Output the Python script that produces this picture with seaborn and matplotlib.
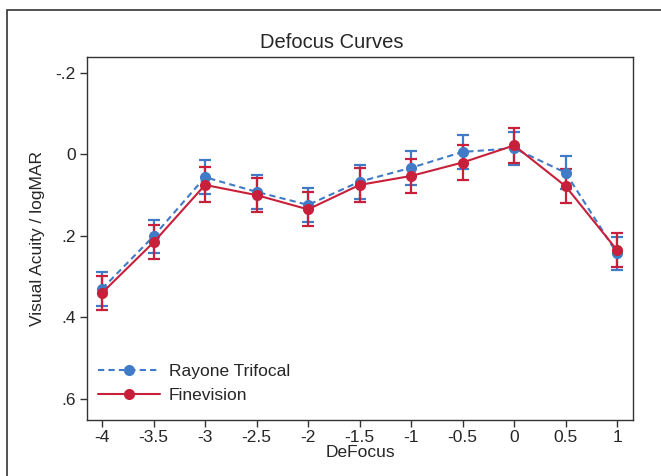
import numpy as np
import pandas as pd
import seaborn as sns
import matplotlib.pyplot as plt
from matplotlib.patches import Rectangle

defocus = [-4, -3.5, -3, -2.5, -2, -1.5, -1, -0.5, 0, 0.5, 1]
rayone_mean = [0.330, 0.201, 0.056, 0.092, 0.124, 0.067, 0.033, -0.006, -0.015, 0.045, 0.243]
rayone_err = [0.042, 0.040, 0.041, 0.042, 0.041, 0.042, 0.042, 0.042, 0.041, 0.041, 0.041]
fine_mean = [0.340, 0.216, 0.075, 0.100, 0.135, 0.075, 0.053, 0.020, -0.022, 0.078, 0.235]
fine_err = [0.042, 0.042, 0.043, 0.042, 0.042, 0.042, 0.041, 0.042, 0.042, 0.041, 0.041]
series_names = ['Rayone Trifocal', 'Finevision']
xtick_labels = ['-4', '-3.5', '-3', '-2.5', '-2', '-1.5', '-1', '-0.5', '0', '0.5', '1']
yticks = [-0.2, 0, 0.2, 0.4, 0.6]
ytick_labels = ['-.2', '0', '.2', '.4', '.6']

blue = '#3F7BC6'
red = '#C8203A'

sns.set_style('white')
plt.rcParams['font.family'] = ['Liberation Sans', 'DejaVu Sans']

df = pd.DataFrame({
    'DeFocus': defocus * 2,
    'VA': rayone_mean + fine_mean,
    'err': rayone_err + fine_err,
    'Lens': [series_names[0]] * len(defocus) + [series_names[1]] * len(defocus),
})

fig = plt.figure(figsize=(6.61, 4.76), dpi=100)
fig.patches.append(Rectangle((7 / 661, -0.1), 1.2, 1 - 10 / 476 + 0.1,
                             transform=fig.transFigure, fill=False,
                             edgecolor='#333333', linewidth=1.2))
ax = fig.add_axes([87 / 661, 1 - 420 / 476, (633 - 87) / 661, (420 - 57) / 476])

pal = {series_names[0]: blue, series_names[1]: red}
for name in series_names:
    d = df[df['Lens'] == name]
    ax.errorbar(d['DeFocus'], d['VA'], yerr=d['err'], fmt='none',
                ecolor=pal[name], elinewidth=1.6, capsize=4.5, capthick=1.6, zorder=2)
sns.lineplot(data=df, x='DeFocus', y='VA', hue='Lens', style='Lens',
             palette=pal, dashes={series_names[0]: (3, 2), series_names[1]: ''},
             markers={series_names[0]: 'o', series_names[1]: 'o'},
             markersize=8, markeredgewidth=0, linewidth=1.5, ax=ax, zorder=3)

ax.set_xlim(-4.146, 1.155)
ax.set_ylim(0.652, -0.239)
ax.set_xticks(defocus)
ax.set_xticklabels(xtick_labels, fontsize=12.5)
ax.set_yticks(yticks)
ax.set_yticklabels(ytick_labels, fontsize=12.5)
ax.tick_params(axis='both', direction='out', length=5, width=1, color='#333333',
               left=True, bottom=True, pad=3)
ax.tick_params(axis='x', pad=2)
for s in ax.spines.values():
    s.set_color('#333333')
    s.set_linewidth(1)
ax.set_xlabel('DeFocus', fontsize=12.5, labelpad=0)
ax.set_ylabel('Visual Acuity / logMAR', fontsize=12.5, labelpad=8)
fig.text(0.502, 1 - 43 / 476, 'Defocus Curves', fontsize=14.5, ha='center', va='center')

leg = ax.legend(loc='lower left', frameon=False, fontsize=12.5, handlelength=3.6,
                borderaxespad=0.7, labelspacing=0.5, handletextpad=0.5,
                borderpad=0.3, bbox_to_anchor=(-0.012, 0.0))

fig.savefig('out.png', dpi=100)
